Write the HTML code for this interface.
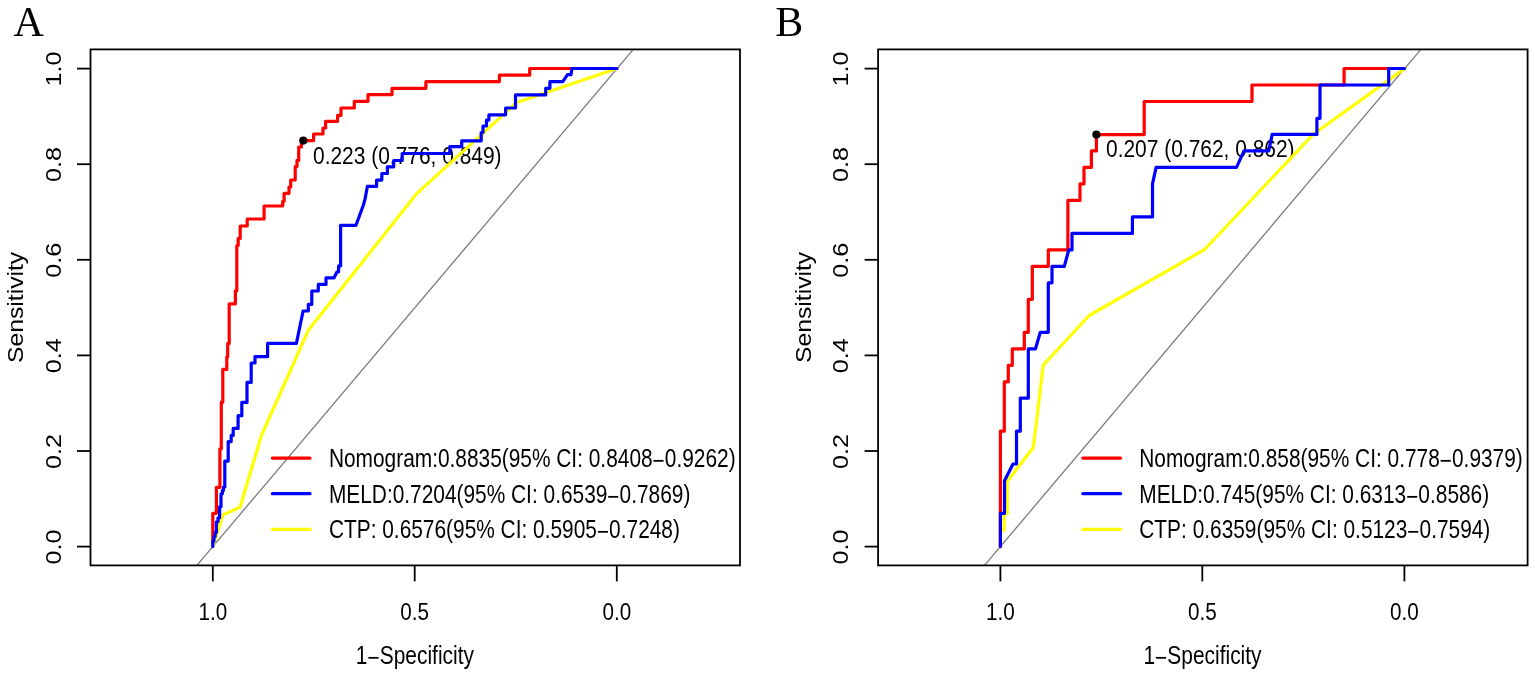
<!DOCTYPE html>
<html><head><meta charset="utf-8"><title>ROC curves</title>
<style>html,body{margin:0;padding:0;background:#fff;}svg{display:block;}text{fill:#000;}</style>
</head><body>
<svg width="1535" height="676" viewBox="0 0 1535 676">
<rect width="1535" height="676" fill="#fff"/>
<line x1="196.9" y1="565.4" x2="633.3" y2="49.4" stroke="#7a7a7a" stroke-width="1.3"/>
<path d="M212.8,546.6 V513.3 H216.4 V487.3 H219.9 V448.8 H221.3 V402.2 H222.8 V369.4 H226.8 V356.8 H227.7 V343.4 H229.2 V303.8 H235.4 V290.8 H236.8 V245.5 H238.2 V238.4 H240.2 V226 H247.2 V219 H264.1 V206 H282.7 V201.3 H284.1 V193.3 H289 V187 H290.7 V180 H295.2 V166.6 H297 V160.4 H298.7 V147 H301.4 V140.6 H313.6 V134 H323 V128 H325.6 V121.3 H337.6 V115.3 H341 V108 H354.3 V101.3 H368 V94.6 H392 V88.3 H425.9 V81.6 H499.4 V75.2 H529.7 V68.5 H617" fill="none" stroke="#ff0000" stroke-width="3.2" stroke-linejoin="round" stroke-linecap="round"/>
<circle cx="303.3" cy="140.6" r="4.1" fill="#000"/>
<text transform="translate(313.00,163.50) scale(0.8620,1)" font-size="24.30" text-anchor="start" font-family='"Liberation Sans", Arial, Helvetica, sans-serif'>0.223 (0.776, 0.849)</text>
<path d="M212.8,546.6 L222.9,514.9 L240,507.2 L261.4,435.5 L308.3,330.3 L416.7,193.6 L516.8,102.4 L617,68.6" fill="none" stroke="#ffff00" stroke-width="3.2" stroke-linejoin="round" stroke-linecap="round"/>
<path d="M212.8,546.6 V541.3 H213.9 V536.5 H215.2 V532.4 H216.4 V521.8 H218 V517.8 H219.6 V506.7 H221 V493.8 H222.4 V490.4 H223.4 V487 H224.8 V461.1 H228.2 V441.6 H231.2 V435.4 H233.2 V428.4 H238.1 V415.7 H241.8 V402.4 H247 V382.4 H251.2 V363 H255 V356.6 H267.6 V343.4 H296.4 L303.1,311 H308.3 V304.4 H311.8 V291 H318.3 V284.4 H326 V277.8 H334.1 L337.1,271.8 H338.6 V265.9 H340.6 V225.3 H356 L363.4,205 L365,199.3 L367.4,186.4 H376.6 V180.1 H381.8 V173.5 H387.4 V166.8 H393.7 V160.5 H402.2 V153.5 H449.8 V146.7 H461.7 V140.8 H481.2 V132.5 H483 V126 H486.5 V120.1 H488.9 V114.8 H505.6 V108 H515.5 V94.9 H545.7 V88.3 H549.9 V81.7 H562.8 L567.5,74.7 H571 L572,68.5 H617" fill="none" stroke="#0000ff" stroke-width="3.2" stroke-linejoin="round" stroke-linecap="round"/>
<rect x="90.50" y="49.4" width="649.50" height="516.00" fill="none" stroke="#000" stroke-width="1.8"/>
<line x1="90.50" y1="546.60" x2="77.00" y2="546.60" stroke="#000" stroke-width="1.8"/>
<text transform="translate(60.60,547.00) scale(0.8500,1) rotate(-90)" font-size="25.20" text-anchor="middle" font-family='"Liberation Sans", Arial, Helvetica, sans-serif'>0.0</text>
<line x1="90.50" y1="451.00" x2="77.00" y2="451.00" stroke="#000" stroke-width="1.8"/>
<text transform="translate(60.60,451.40) scale(0.8500,1) rotate(-90)" font-size="25.20" text-anchor="middle" font-family='"Liberation Sans", Arial, Helvetica, sans-serif'>0.2</text>
<line x1="90.50" y1="355.40" x2="77.00" y2="355.40" stroke="#000" stroke-width="1.8"/>
<text transform="translate(60.60,355.80) scale(0.8500,1) rotate(-90)" font-size="25.20" text-anchor="middle" font-family='"Liberation Sans", Arial, Helvetica, sans-serif'>0.4</text>
<line x1="90.50" y1="259.80" x2="77.00" y2="259.80" stroke="#000" stroke-width="1.8"/>
<text transform="translate(60.60,260.20) scale(0.8500,1) rotate(-90)" font-size="25.20" text-anchor="middle" font-family='"Liberation Sans", Arial, Helvetica, sans-serif'>0.6</text>
<line x1="90.50" y1="164.20" x2="77.00" y2="164.20" stroke="#000" stroke-width="1.8"/>
<text transform="translate(60.60,164.60) scale(0.8500,1) rotate(-90)" font-size="25.20" text-anchor="middle" font-family='"Liberation Sans", Arial, Helvetica, sans-serif'>0.8</text>
<line x1="90.50" y1="68.60" x2="77.00" y2="68.60" stroke="#000" stroke-width="1.8"/>
<text transform="translate(60.60,69.00) scale(0.8500,1) rotate(-90)" font-size="25.20" text-anchor="middle" font-family='"Liberation Sans", Arial, Helvetica, sans-serif'>1.0</text>
<line x1="212.80" y1="565.4" x2="212.80" y2="581.40" stroke="#000" stroke-width="1.8"/>
<text transform="translate(212.80,619.80) scale(0.8550,1)" font-size="24.20" text-anchor="middle" font-family='"Liberation Sans", Arial, Helvetica, sans-serif'>1.0</text>
<line x1="414.70" y1="565.4" x2="414.70" y2="581.40" stroke="#000" stroke-width="1.8"/>
<text transform="translate(414.70,619.80) scale(0.8550,1)" font-size="24.20" text-anchor="middle" font-family='"Liberation Sans", Arial, Helvetica, sans-serif'>0.5</text>
<line x1="616.80" y1="565.4" x2="616.80" y2="581.40" stroke="#000" stroke-width="1.8"/>
<text transform="translate(616.80,619.80) scale(0.8550,1)" font-size="24.20" text-anchor="middle" font-family='"Liberation Sans", Arial, Helvetica, sans-serif'>0.0</text>
<text transform="translate(22.90,307.40) scale(0.9000,1) rotate(-90)" font-size="24.70" text-anchor="middle" font-family='"Liberation Sans", Arial, Helvetica, sans-serif'>Sensitivity</text>
<text transform="translate(414.90,663.60) scale(0.8305,1)" font-size="25.20" text-anchor="middle" font-family='"Liberation Sans", Arial, Helvetica, sans-serif'>1<tspan dy="2.0">−</tspan><tspan dy="-2.0">Specificity</tspan></text>
<line x1="272.4" y1="458.10" x2="310.0" y2="458.10" stroke="#ff0000" stroke-width="3.2" stroke-linecap="round"/>
<text transform="translate(328.90,466.90) scale(0.8290,1)" font-size="25.20" text-anchor="start" font-family='"Liberation Sans", Arial, Helvetica, sans-serif'>Nomogram:0.8835(95% CI: 0.8408<tspan dy="2.0">−</tspan><tspan dy="-2.0">0.9262)</tspan></text>
<line x1="272.4" y1="493.70" x2="310.0" y2="493.70" stroke="#0000ff" stroke-width="3.2" stroke-linecap="round"/>
<text transform="translate(328.90,502.50) scale(0.8290,1)" font-size="25.20" text-anchor="start" font-family='"Liberation Sans", Arial, Helvetica, sans-serif'>MELD:0.7204(95% CI: 0.6539<tspan dy="2.0">−</tspan><tspan dy="-2.0">0.7869)</tspan></text>
<line x1="272.4" y1="529.30" x2="310.0" y2="529.30" stroke="#ffff00" stroke-width="3.2" stroke-linecap="round"/>
<text transform="translate(328.90,538.10) scale(0.8290,1)" font-size="25.20" text-anchor="start" font-family='"Liberation Sans", Arial, Helvetica, sans-serif'>CTP: 0.6576(95% CI: 0.5905<tspan dy="2.0">−</tspan><tspan dy="-2.0">0.7248)</tspan></text>
<text transform="translate(13.60,36.00) scale(1.0000,1)" font-size="42.00" text-anchor="start" font-family='"Liberation Serif", "Times New Roman", serif'>A</text>
<line x1="984.5" y1="565.4" x2="1420.9" y2="49.4" stroke="#7a7a7a" stroke-width="1.3"/>
<path d="M1000.4,546.6 V431.2 H1004.3 V381.8 H1008.3 V365.3 H1012.3 V348.8 H1024.3 V332.3 H1028.3 V299.3 H1032.3 V266.3 H1048.3 V249.9 H1067.9 V200.4 H1080 V183.9 H1084 V167.4 H1091.4 V150.9 H1096.4 V134.6 H1144.2 V101.5 H1252 V85 H1344.1 V68.5 H1404.6" fill="none" stroke="#ff0000" stroke-width="3.2" stroke-linejoin="round" stroke-linecap="round"/>
<circle cx="1096.4" cy="134.6" r="4.1" fill="#000"/>
<text transform="translate(1106.00,157.00) scale(0.8620,1)" font-size="24.30" text-anchor="start" font-family='"Liberation Sans", Arial, Helvetica, sans-serif'>0.207 (0.762, 0.862)</text>
<path d="M1000.4,546.6 V530.1 H1004.1 V513.6 H1007.3 V481.2 L1033.3,447.6 L1043.3,365 L1089.2,315.5 L1204.6,249.5 L1313,134.5 L1404.6,68.6" fill="none" stroke="#ffff00" stroke-width="3.2" stroke-linejoin="round" stroke-linecap="round"/>
<path d="M1000.4,546.6 V513.3 H1004.5 V480.7 L1013,464 H1016.5 V431.2 H1020.3 V398.2 H1028.3 V348.8 H1035.5 L1040.3,332.3 H1048.3 V282.8 H1052 V266.3 H1064.3 L1068.8,249.9 H1072 V233.4 H1132.4 V216.9 H1152.5 V183.9 L1156.1,167.4 H1236.5 L1244,150.9 H1268.7 L1272.2,134.4 H1316.9 V118.3 H1320 V85 H1388.7 V68.5 H1404.6" fill="none" stroke="#0000ff" stroke-width="3.2" stroke-linejoin="round" stroke-linecap="round"/>
<rect x="878.10" y="49.4" width="649.50" height="516.00" fill="none" stroke="#000" stroke-width="1.8"/>
<line x1="878.10" y1="546.60" x2="864.60" y2="546.60" stroke="#000" stroke-width="1.8"/>
<text transform="translate(848.20,547.00) scale(0.8500,1) rotate(-90)" font-size="25.20" text-anchor="middle" font-family='"Liberation Sans", Arial, Helvetica, sans-serif'>0.0</text>
<line x1="878.10" y1="451.00" x2="864.60" y2="451.00" stroke="#000" stroke-width="1.8"/>
<text transform="translate(848.20,451.40) scale(0.8500,1) rotate(-90)" font-size="25.20" text-anchor="middle" font-family='"Liberation Sans", Arial, Helvetica, sans-serif'>0.2</text>
<line x1="878.10" y1="355.40" x2="864.60" y2="355.40" stroke="#000" stroke-width="1.8"/>
<text transform="translate(848.20,355.80) scale(0.8500,1) rotate(-90)" font-size="25.20" text-anchor="middle" font-family='"Liberation Sans", Arial, Helvetica, sans-serif'>0.4</text>
<line x1="878.10" y1="259.80" x2="864.60" y2="259.80" stroke="#000" stroke-width="1.8"/>
<text transform="translate(848.20,260.20) scale(0.8500,1) rotate(-90)" font-size="25.20" text-anchor="middle" font-family='"Liberation Sans", Arial, Helvetica, sans-serif'>0.6</text>
<line x1="878.10" y1="164.20" x2="864.60" y2="164.20" stroke="#000" stroke-width="1.8"/>
<text transform="translate(848.20,164.60) scale(0.8500,1) rotate(-90)" font-size="25.20" text-anchor="middle" font-family='"Liberation Sans", Arial, Helvetica, sans-serif'>0.8</text>
<line x1="878.10" y1="68.60" x2="864.60" y2="68.60" stroke="#000" stroke-width="1.8"/>
<text transform="translate(848.20,69.00) scale(0.8500,1) rotate(-90)" font-size="25.20" text-anchor="middle" font-family='"Liberation Sans", Arial, Helvetica, sans-serif'>1.0</text>
<line x1="1000.40" y1="565.4" x2="1000.40" y2="581.40" stroke="#000" stroke-width="1.8"/>
<text transform="translate(1000.40,619.80) scale(0.8550,1)" font-size="24.20" text-anchor="middle" font-family='"Liberation Sans", Arial, Helvetica, sans-serif'>1.0</text>
<line x1="1202.30" y1="565.4" x2="1202.30" y2="581.40" stroke="#000" stroke-width="1.8"/>
<text transform="translate(1202.30,619.80) scale(0.8550,1)" font-size="24.20" text-anchor="middle" font-family='"Liberation Sans", Arial, Helvetica, sans-serif'>0.5</text>
<line x1="1404.40" y1="565.4" x2="1404.40" y2="581.40" stroke="#000" stroke-width="1.8"/>
<text transform="translate(1404.40,619.80) scale(0.8550,1)" font-size="24.20" text-anchor="middle" font-family='"Liberation Sans", Arial, Helvetica, sans-serif'>0.0</text>
<text transform="translate(810.50,307.40) scale(0.9000,1) rotate(-90)" font-size="24.70" text-anchor="middle" font-family='"Liberation Sans", Arial, Helvetica, sans-serif'>Sensitivity</text>
<text transform="translate(1202.50,663.60) scale(0.8305,1)" font-size="25.20" text-anchor="middle" font-family='"Liberation Sans", Arial, Helvetica, sans-serif'>1<tspan dy="2.0">−</tspan><tspan dy="-2.0">Specificity</tspan></text>
<line x1="1082.8" y1="458.10" x2="1120.6" y2="458.10" stroke="#ff0000" stroke-width="3.2" stroke-linecap="round"/>
<text transform="translate(1139.30,466.90) scale(0.8290,1)" font-size="25.20" text-anchor="start" font-family='"Liberation Sans", Arial, Helvetica, sans-serif'>Nomogram:0.858(95% CI: 0.778<tspan dy="2.0">−</tspan><tspan dy="-2.0">0.9379)</tspan></text>
<line x1="1082.8" y1="493.70" x2="1120.6" y2="493.70" stroke="#0000ff" stroke-width="3.2" stroke-linecap="round"/>
<text transform="translate(1139.30,502.50) scale(0.8290,1)" font-size="25.20" text-anchor="start" font-family='"Liberation Sans", Arial, Helvetica, sans-serif'>MELD:0.745(95% CI: 0.6313<tspan dy="2.0">−</tspan><tspan dy="-2.0">0.8586)</tspan></text>
<line x1="1082.8" y1="529.30" x2="1120.6" y2="529.30" stroke="#ffff00" stroke-width="3.2" stroke-linecap="round"/>
<text transform="translate(1139.30,538.10) scale(0.8290,1)" font-size="25.20" text-anchor="start" font-family='"Liberation Sans", Arial, Helvetica, sans-serif'>CTP: 0.6359(95% CI: 0.5123<tspan dy="2.0">−</tspan><tspan dy="-2.0">0.7594)</tspan></text>
<text transform="translate(775.30,36.00) scale(1.0000,1)" font-size="42.00" text-anchor="start" font-family='"Liberation Serif", "Times New Roman", serif'>B</text>
</svg>
</body></html>
